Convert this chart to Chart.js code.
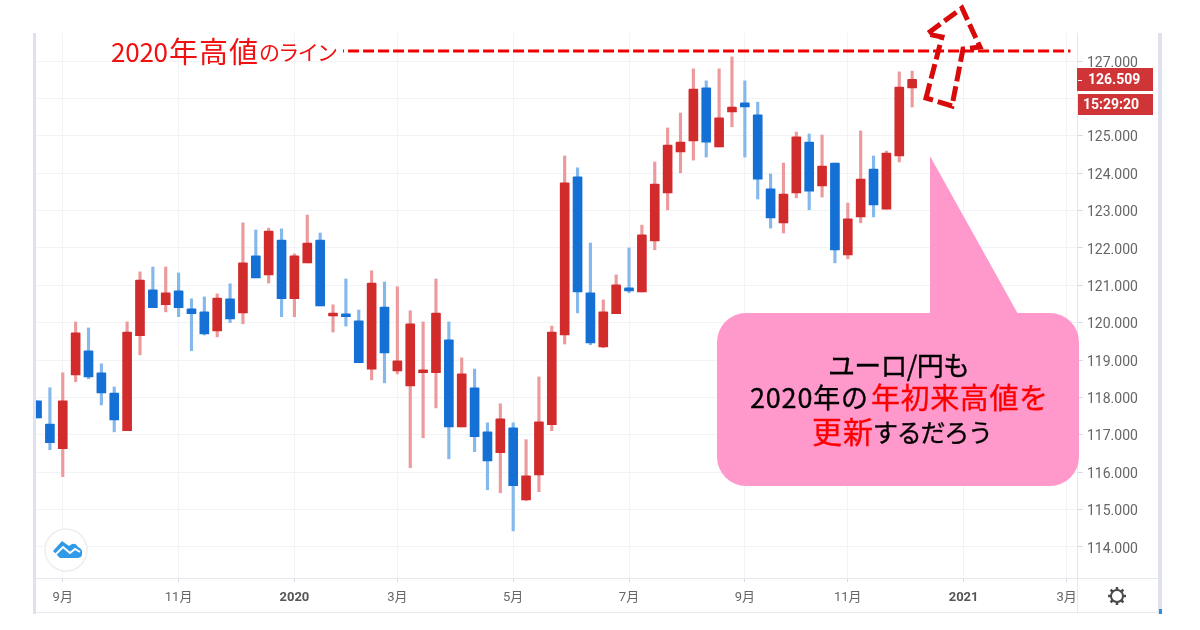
<!DOCTYPE html>
<html lang="ja">
<head>
<meta charset="utf-8">
<script src="https://cdn.jsdelivr.net/npm/chart.js@4/dist/chart.umd.min.js"></script>
<style>
  html, body { margin: 0; padding: 0; background: #fff; }
  canvas { display: block; filter: blur(0.5px); }
</style>
</head>
<body>
<canvas id="chart" width="1200" height="630"></canvas>
<script>
// EUR/JPY candles, one per period
const opens = [117.91,117.29,116.63,118.60,119.25,118.66,118.12,117.11,119.65,120.88,120.48,120.85,120.37,120.29,119.78,120.64,120.26,121.79,121.28,122.21,120.64,121.60,122.21,120.18,120.24,120.05,118.76,120.42,118.71,118.31,118.66,118.66,119.54,117.21,118.26,117.08,116.52,117.19,115.26,115.93,117.27,119.67,123.90,120.80,119.35,120.24,120.93,120.82,122.19,123.47,124.57,124.86,126.28,124.70,125.64,125.88,125.56,123.58,122.67,123.47,124.83,123.66,124.27,121.81,122.83,124.11,123.04,124.46,126.28];
const highs = [117.91,118.26,118.66,120.02,119.86,118.90,118.28,120.02,121.36,121.49,121.49,121.33,120.64,120.69,120.77,121.04,122.67,122.48,122.53,122.51,121.84,122.88,122.40,120.48,121.17,120.34,121.39,121.09,120.96,120.32,120.02,121.17,120.02,119.06,118.76,117.32,117.83,117.32,116.87,118.55,119.91,124.46,124.14,122.13,120.61,121.28,122.00,122.61,124.30,125.21,125.61,126.79,126.47,126.79,127.11,126.47,125.90,123.98,124.27,125.10,125.05,125.02,124.27,123.20,125.13,124.46,124.59,126.71,126.73];
const lows = [117.45,116.60,115.88,118.42,118.50,117.80,117.08,117.11,119.14,120.40,120.29,120.16,119.25,119.67,119.62,120.00,119.97,121.20,121.06,120.16,120.16,121.60,120.45,119.75,119.91,118.93,118.47,118.39,118.63,116.12,116.92,117.72,116.36,117.21,116.55,115.53,115.45,114.43,115.24,115.48,117.11,119.43,120.26,119.41,119.33,120.24,120.80,120.82,121.95,123.02,124.01,124.35,124.43,124.70,125.24,124.43,123.31,122.53,122.40,123.34,123.02,123.36,121.60,121.71,122.67,122.83,123.04,124.30,125.77];
const closes = [117.45,116.79,117.91,119.73,118.55,118.12,117.40,119.75,121.14,120.40,120.80,120.40,120.24,119.70,120.66,120.10,121.60,121.20,122.45,120.64,121.79,122.13,120.45,120.26,120.16,118.93,121.06,119.19,118.98,119.97,118.74,120.26,117.21,118.63,116.95,116.30,117.43,115.64,115.90,117.35,119.75,123.74,120.82,119.46,120.29,121.01,120.85,122.35,123.71,124.75,124.83,126.25,124.83,125.48,125.77,125.77,123.84,122.80,123.44,124.97,123.52,124.19,121.95,122.78,123.84,123.15,124.54,126.30,126.509];

const timeTickIndex = [2, 11, 20, 28, 37, 46, 55, 63, 72, 80];
const timeTickLabels = ['9月', '11月', '2020', '3月', '5月', '7月', '9月', '11月', '2021', '3月'];
const priceTicks = [114, 115, 116, 117, 118, 119, 120, 121, 122, 123, 124, 125, 126, 127];

const highLineValue = 127.27;
const highLineFrom = 23.78;
const highLineTo = 80.3;
const lastPriceLabel = '126.509';
const countdownLabel = '15:29:20';

const RED = '#d22b2b';
const BLUE = '#1470d4';
const RED_WICK = '#ec9a9c';
const BLUE_WICK = '#85b9ec';
const JP_FONT = '"Noto Sans CJK JP", "Noto Sans", sans-serif';
const AXIS_FONT = 'Roboto, "Noto Sans CJK JP", sans-serif';

const isUp = opens.map((o, i) => closes[i] >= o);
const isYearTick = (c) => (timeTickLabels[c.index] || '').length === 4;

// stretches a run of text so its last glyph ends at x1
function fitText(ctx, text, x0, x1, y, color, size, stroke = 0) {
  ctx.save();
  ctx.font = `${size}px ${JP_FONT}`;
  ctx.fillStyle = color;
  ctx.strokeStyle = color;
  ctx.textAlign = 'left';
  ctx.textBaseline = 'middle';
  const w = ctx.measureText(text).width;
  ctx.letterSpacing = `${(x1 - x0 - w) / (text.length - 1)}px`;
  ctx.fillText(text, x0, y);
  if (stroke) {
    ctx.lineWidth = stroke;
    ctx.strokeText(text, x0, y);
  }
  ctx.restore();
}

const chrome = {
  id: 'chrome',
  beforeDatasetsDraw(chart) {
    const { ctx } = chart;
    ctx.save();
    ctx.fillStyle = '#dfe2ee';
    ctx.fillRect(33, 33, 3, 581);
    ctx.fillRect(1158, 33, 4, 581);
    ctx.fillStyle = '#e6e8ef';
    ctx.fillRect(36, 578, 1122, 1);
    ctx.fillRect(36, 612, 1122, 1);
    ctx.fillRect(1077, 33, 1, 580);
    ctx.fillStyle = '#2a8fe6';
    ctx.fillRect(1159, 609, 3, 5);
    ctx.restore();
  },
  afterDraw(chart) {
    const { ctx } = chart;
    ctx.save();

    // logo badge
    ctx.beginPath();
    ctx.arc(66, 550, 21, 0, Math.PI * 2);
    ctx.fillStyle = '#fff';
    ctx.fill();
    ctx.strokeStyle = '#eceef2';
    ctx.lineWidth = 1.5;
    ctx.stroke();
    ctx.fillStyle = '#2f9be8';
    ctx.beginPath();
    ctx.moveTo(53, 551);
    ctx.lineTo(62, 541);
    ctx.lineTo(69, 546);
    ctx.quadraticCurveTo(75, 541, 78, 547);
    ctx.quadraticCurveTo(83, 549, 82, 554);
    ctx.quadraticCurveTo(82, 558, 77, 558);
    ctx.lineTo(60, 558);
    ctx.closePath();
    ctx.fill();
    ctx.strokeStyle = '#fff';
    ctx.lineWidth = 2;
    ctx.beginPath();
    ctx.moveTo(55, 555);
    ctx.lineTo(63, 547);
    ctx.lineTo(70, 553);
    ctx.lineTo(75, 549);
    ctx.lineTo(80, 552);
    ctx.stroke();

    // settings gear
    ctx.strokeStyle = '#4a4a4a';
    ctx.lineWidth = 2;
    ctx.beginPath();
    ctx.arc(1117, 596, 6, 0, Math.PI * 2);
    ctx.stroke();
    ctx.lineWidth = 2.5;
    for (let k = 0; k < 8; k++) {
      const a = (k * Math.PI) / 4;
      ctx.beginPath();
      ctx.moveTo(1117 + Math.cos(a) * 6, 596 + Math.sin(a) * 6);
      ctx.lineTo(1117 + Math.cos(a) * 9, 596 + Math.sin(a) * 9);
      ctx.stroke();
    }

    // last price tags, the white strip hides the covered 126 label
    ctx.fillStyle = '#fff';
    ctx.fillRect(1078, 91, 75, 3);
    ctx.fillStyle = '#cf3437';
    ctx.fillRect(1077, 68, 76, 23);
    ctx.fillRect(1078, 94, 75, 21);
    ctx.fillStyle = '#fff';
    ctx.font = `bold 14px ${AXIS_FONT}`;
    ctx.textBaseline = 'middle';
    ctx.textAlign = 'left';
    ctx.fillRect(1078, 80, 4, 1);
    ctx.fillText(lastPriceLabel, 1088, 80.5);
    ctx.fillText(countdownLabel, 1083, 105);

    // callout bubble
    ctx.fillStyle = '#ff99cc';
    ctx.beginPath();
    ctx.roundRect(717, 313, 362, 173, 29);
    ctx.fill();
    ctx.beginPath();
    ctx.moveTo(930, 156);
    ctx.lineTo(1018, 314);
    ctx.lineTo(930, 314);
    ctx.closePath();
    ctx.fill();

    fitText(ctx, 'ユーロ/円も', 828, 970, 366, '#000', 27, 0.35);
    fitText(ctx, '2020年の', 750, 868, 398, '#000', 27, 0.35);
    fitText(ctx, '年初来高値を', 871, 1048, 398, '#f00', 29, 0.35);
    fitText(ctx, '更新', 812, 873, 432, '#f00', 30, 0.35);
    fitText(ctx, 'するだろう', 873, 993, 432, '#000', 25, 0.35);

    fitText(ctx, '2020', 111, 168, 52, '#f01010', 26);
    fitText(ctx, '年高値', 169, 258, 52, '#f01010', 29);
    fitText(ctx, 'のライン', 259, 338, 52, '#f01010', 21);

    // dashed up arrow
    ctx.strokeStyle = '#d90a0a';
    ctx.lineWidth = 5;
    ctx.lineJoin = 'miter';
    ctx.setLineDash([15, 5]);
    ctx.beginPath();
    ctx.moveTo(926, 98);
    ctx.lineTo(942, 37);
    ctx.lineTo(927, 34);
    ctx.lineTo(962, 8);
    ctx.lineTo(980, 47);
    ctx.lineTo(963, 49);
    ctx.lineTo(952, 106);
    ctx.closePath();
    ctx.stroke();
    ctx.restore();
  },
};

new Chart(document.getElementById('chart'), {
  data: {
    datasets: [
      {
        type: 'line',
        order: 0,
        data: [
          { x: highLineFrom, y: highLineValue },
          { x: highLineTo, y: highLineValue },
        ],
        borderColor: '#f00000',
        borderWidth: 3,
        borderDash: [11, 4],
        borderDashOffset: 10,
        pointRadius: 0,
      },
      {
        type: 'bar',
        order: 1,
        grouped: false,
        barThickness: 9,
        borderRadius: 1,
        data: opens.map((o, i) => ({ x: i, y: [o, closes[i]] })),
        backgroundColor: isUp.map((up) => (up ? RED : BLUE)),
        minBarLength: 2,
      },
      {
        type: 'bar',
        order: 2,
        grouped: false,
        barThickness: 2.5,
        data: highs.map((h, i) => ({ x: i, y: [lows[i], h] })),
        backgroundColor: isUp.map((up) => (up ? RED_WICK : BLUE_WICK)),
      },
    ],
  },
  options: {
    responsive: false,
    animation: false,
    devicePixelRatio: 1,
    layout: { padding: { left: 36, right: 43, top: 33, bottom: 18 } },
    plugins: { legend: { display: false }, tooltip: { enabled: false } },
    scales: {
      x: {
        type: 'linear',
        offset: false,
        min: -0.08,
        max: 80.81,
        afterBuildTicks(axis) {
          axis.ticks = timeTickIndex.map((value) => ({ value }));
        },
        afterFit(axis) {
          axis.height = 34;
        },
        grid: { offset: false, color: '#f1f3f7', tickColor: '#d8dbe3', tickLength: 4 },
        border: { display: false },
        ticks: {
          autoSkip: false,
          maxRotation: 0,
          padding: 8,
          color: (c) => (isYearTick(c) ? '#555' : '#666'),
          font: (c) => ({
            family: AXIS_FONT,
            size: 13,
            weight: isYearTick(c) ? 'bold' : 'normal',
          }),
          callback: (v) => timeTickLabels[timeTickIndex.indexOf(v)],
        },
      },
      y: {
        position: 'right',
        min: 113.17,
        max: 127.75,
        afterBuildTicks(axis) {
          axis.ticks = priceTicks.map((value) => ({ value }));
        },
        afterFit(axis) {
          axis.width = 80;
        },
        grid: { color: '#f1f3f7', tickColor: '#d8dbe3', tickLength: 6 },
        border: { display: false },
        ticks: {
          padding: 4,
          color: '#666',
          // empty first line nudges the label down a little
          font: { family: AXIS_FONT, size: 14, lineHeight: 0.3 },
          callback: (v) => ['', v.toFixed(3)],
        },
      },
    },
  },
  plugins: [chrome],
});
</script>
</body>
</html>
